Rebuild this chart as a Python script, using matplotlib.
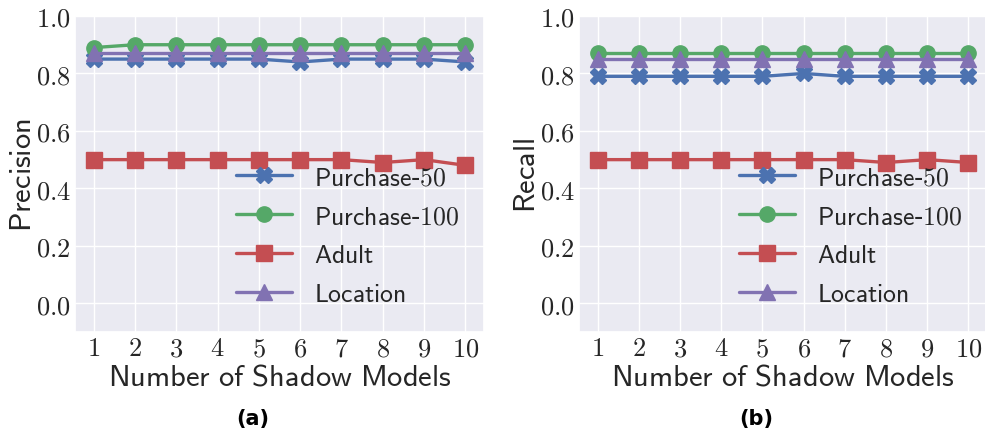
import matplotlib
matplotlib.use("Agg")
import matplotlib.pyplot as plt
import seaborn as sns

sns.set_theme(style="darkgrid")
plt.rcParams["mathtext.fontset"] = "cm"
plt.rcParams["font.family"] = ["DejaVu Sans"]

shadow_models = [1, 2, 3, 4, 5, 6, 7, 8, 9, 10]
series_names = ["Purchase-50", "Purchase-100", "Adult", "Location"]

precision_purchase50 = [0.85, 0.85, 0.85, 0.85, 0.85, 0.84, 0.85, 0.85, 0.85, 0.84]
precision_purchase100 = [0.89, 0.90, 0.90, 0.90, 0.90, 0.90, 0.90, 0.90, 0.90, 0.90]
precision_adult = [0.50, 0.50, 0.50, 0.50, 0.50, 0.50, 0.50, 0.49, 0.50, 0.48]
precision_location = [0.87, 0.87, 0.87, 0.87, 0.87, 0.87, 0.87, 0.87, 0.87, 0.87]

recall_purchase50 = [0.79, 0.79, 0.79, 0.79, 0.79, 0.80, 0.79, 0.79, 0.79, 0.79]
recall_purchase100 = [0.87, 0.87, 0.87, 0.87, 0.87, 0.87, 0.87, 0.87, 0.87, 0.87]
recall_adult = [0.50, 0.50, 0.50, 0.50, 0.50, 0.50, 0.50, 0.49, 0.50, 0.49]
recall_location = [0.85, 0.85, 0.85, 0.85, 0.85, 0.85, 0.85, 0.85, 0.85, 0.85]

y_ticks = [0.0, 0.2, 0.4, 0.6, 0.8, 1.0]

colors = ["#4C72B0", "#55A868", "#C44E52", "#8172B2"]
markers = ["X", "o", "s", "^"]


def sans(label):
    # Computer Modern Sans via mathtext; hyphens kept as plain text
    parts = label.split("-")
    return "-".join(r"$\mathsf{" + p.replace(" ", r"\ ") + "}$" for p in parts)


fig = plt.figure(figsize=(9.85, 4.35), dpi=100)
bottom = 1 - 333 / 435
height = 316 / 435
ax1 = fig.add_axes([75 / 985, bottom, 409 / 985, height])
ax2 = fig.add_axes([579 / 985, bottom, 408 / 985, height])

panels = [
    (ax1, "Precision", [precision_purchase50, precision_purchase100,
                        precision_adult, precision_location], "(a)"),
    (ax2, "Recall", [recall_purchase50, recall_purchase100,
                     recall_adult, recall_location], "(b)"),
]

for ax, ylabel, values, tag in panels:
    for name, vals, c, m in zip(series_names, values, colors, markers):
        ax.plot(shadow_models, vals, color=c, marker=m, markersize=11,
                linewidth=2.4, label=sans(name))
    ax.set_ylim(-0.1, 1.0)
    ax.set_xticks(shadow_models)
    ax.set_xticklabels([r"$%d$" % v for v in shadow_models])
    ax.set_yticks(y_ticks)
    ax.set_yticklabels([r"$%.1f$" % v for v in y_ticks])
    ax.tick_params(axis="both", length=0, labelsize=19, colors="#262626")
    ax.tick_params(axis="y", pad=3)
    ax.tick_params(axis="x", pad=2.5)
    ax.set_xlabel(sans("Number of Shadow Models"), fontsize=22,
                  color="#262626")
    ax.xaxis.set_label_coords(0.5, -0.094)
    ax.set_ylabel(sans(ylabel), fontsize=22, color="#262626")
    ax.yaxis.set_label_coords(-0.094, 0.5)
    ax.legend(loc="lower right", frameon=False, fontsize=18.5,
              handlelength=2.2, labelspacing=0.5, handletextpad=0.85,
              borderpad=0, borderaxespad=0,
              bbox_to_anchor=(0.94, 0.08))
    bb = ax.get_position()
    fig.text(bb.x0 + bb.width * 0.435, 1 - 419 / 435, tag, ha="center",
             va="center", fontsize=15, fontweight="bold", color="black")

fig.savefig("out.png", dpi=100)
